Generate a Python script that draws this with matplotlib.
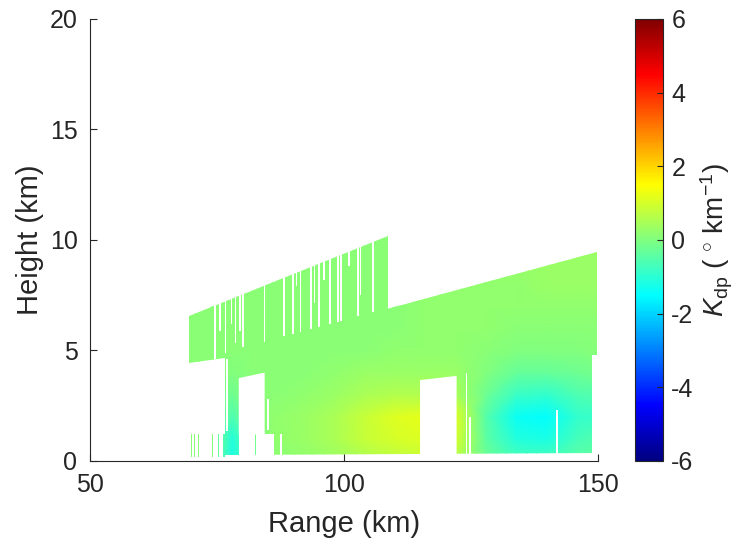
import numpy as np
import matplotlib
matplotlib.use('Agg')
import matplotlib.pyplot as plt
from matplotlib.colors import LinearSegmentedColormap, Normalize
from matplotlib.patches import Polygon
from matplotlib.cm import ScalarMappable

plt.rcParams['font.family'] = ['Liberation Sans', 'DejaVu Sans']
plt.rcParams['mathtext.fontset'] = 'custom'
plt.rcParams['mathtext.rm'] = 'Liberation Sans'
plt.rcParams['mathtext.it'] = 'Liberation Sans:italic'
plt.rcParams['axes.unicode_minus'] = False

# Kdp on a coarse range/height grid (deg/km); rows are heights
grid_range = [69, 74, 78, 82, 86, 92, 98, 104, 110, 116, 122, 128, 134, 140, 146, 151]
grid_height = [0, 1, 2, 3, 4, 5, 6, 7, 8, 9, 10.5]
kdp = [
    [0.1, 0.1, -1.2, -0.3, 0.1, 0.2, 0.3, 0.5, 0.7, 0.8, 0.6, -0.2, -0.6, -0.6, -0.4, -0.3],
    [0.1, 0.1, -1.1, -0.2, 0.2, 0.3, 0.5, 0.8, 1.0, 1.1, 1.0, -0.4, -1.1, -1.2, -0.7, -0.5],
    [0.1, 0.1, -0.6, 0.0, 0.2, 0.3, 0.5, 0.8, 1.1, 1.2, 1.1, -0.5, -1.4, -1.5, -0.9, -0.8],
    [0.1, 0.1, -0.2, 0.1, 0.1, 0.2, 0.3, 0.5, 0.6, 0.6, 0.5, -0.2, -0.8, -0.9, -0.6, -0.5],
    [0.1, 0.1, 0.0, 0.1, 0.1, 0.1, 0.2, 0.3, 0.3, 0.3, 0.3, 0.0, -0.3, -0.3, -0.2, -0.1],
    [0.1, 0.1, 0.1, 0.1, 0.1, 0.1, 0.1, 0.1, 0.2, 0.2, 0.2, 0.1, 0.0, 0.0, 0.0, 0.1],
    [0.1, 0.1, 0.1, 0.1, 0.1, 0.1, 0.1, 0.1, 0.1, 0.2, 0.2, 0.2, 0.1, 0.1, 0.1, 0.1],
    [0.1, 0.1, 0.1, 0.1, 0.1, 0.1, 0.1, 0.1, 0.1, 0.2, 0.2, 0.2, 0.2, 0.2, 0.2, 0.2],
    [0.1, 0.1, 0.1, 0.1, 0.1, 0.1, 0.1, 0.1, 0.1, 0.2, 0.2, 0.2, 0.2, 0.3, 0.3, 0.3],
    [0.1, 0.1, 0.1, 0.1, 0.1, 0.1, 0.1, 0.1, 0.1, 0.2, 0.2, 0.3, 0.3, 0.3, 0.3, 0.3],
    [0.1, 0.1, 0.1, 0.1, 0.1, 0.1, 0.1, 0.1, 0.1, 0.2, 0.2, 0.3, 0.3, 0.3, 0.3, 0.3],
]

# scan coverage (km)
upper_range = [69.5, 108.7]
upper_top = [6.55, 10.2]
upper_base = [4.43, 5.68]
main_range = [76.6, 149.8]
main_top = [4.9, 9.45]
main_base = [0.25, 0.35]
low_start = [69.9, 70.5, 71.2, 74.1, 75.2, 76.1]
low_end = [70.1, 70.7, 71.4, 74.3, 75.4, 76.6]
low_base = 0.2
low_top = 1.2

# missing data below the top of the main sweep
gap_start = [79.3, 79.3, 82.7, 84.4, 87.4, 76.7, 84.9, 115.0, 124.0, 124.7, 141.7, 148.9]
gap_end = [84.4, 82.4, 84.4, 86.2, 87.8, 77.1, 85.3, 122.2, 124.2, 125.0, 142.2, 149.8]
gap_base = [1.2, 0.0, 0.0, 0.0, 0.0, 1.35, 1.4, 0.0, 0.0, 0.0, 0.0, 0.0]
gap_top_l = [3.75, 1.25, 1.25, 1.2, 1.2, 4.6, 2.8, 3.66, 4.0, 2.0, 2.3, 4.8]
gap_top_r = [4.0, 1.25, 1.25, 1.2, 1.2, 4.6, 2.8, 3.85, 4.0, 2.0, 2.3, 4.8]

# missing beams in the upper sweep (they run up to the sweep top)
beam_start = [74.5, 75.45, 76.6, 77.7, 78.55, 79.4, 80.0, 84.2, 88.1, 89.7, 90.6, 91.35,
              93.3, 94.1, 95.0, 95.9, 97.1, 98.55, 99.2, 100.85, 102.5, 103.15, 105.45]
beam_end = [74.8, 75.8, 76.8, 77.9, 78.75, 79.65, 80.25, 84.5, 88.4, 90.15, 90.8, 91.6,
            93.7, 94.35, 95.3, 96.25, 97.45, 98.95, 99.6, 101.3, 102.9, 103.4, 105.9]
beam_base = [4.6, 5.9, 4.9, 6.2, 5.35, 5.9, 5.15, 5.4, 5.65, 5.75, 7.9, 5.85,
             5.97, 7.15, 6.07, 8.2, 6.2, 6.3, 6.35, 8.8, 6.55, 7.5, 6.75]

jet = LinearSegmentedColormap.from_list(
    'jet_m', list(zip([0, 1/8, 3/8, 5/8, 7/8, 1],
                      [(0, 0, 0.5), (0, 0, 1), (0, 1, 1), (1, 1, 0), (1, 0, 0), (0.5, 0, 0)])), N=256)
norm = Normalize(-6, 6)

fig = plt.figure(figsize=(7.5, 5.48), dpi=100)
ax = fig.add_axes([0.12, 0.1588, 0.677, 0.8066])


def draw_region(verts):
    mesh = ax.pcolormesh(grid_range, grid_height, np.array(kdp), shading='gouraud',
                         cmap=jet, norm=norm, zorder=1)
    mesh.set_clip_path(Polygon(verts, closed=True, transform=ax.transData))


draw_region([(upper_range[0], upper_base[0]), (upper_range[1], upper_base[1]),
             (upper_range[1], upper_top[1]), (upper_range[0], upper_top[0])])
draw_region([(main_range[0], main_base[0]), (main_range[1], main_base[1]),
             (main_range[1], main_top[1]), (main_range[0], main_top[0])])
for r0, r1 in zip(low_start, low_end):
    draw_region([(r0, low_base), (r1, low_base), (r1, low_top), (r0, low_top)])

for r0, r1, b, tl, tr in zip(gap_start, gap_end, gap_base, gap_top_l, gap_top_r):
    ax.add_patch(Polygon([(r0, b), (r1, b), (r1, tr), (r0, tl)], closed=True,
                         facecolor='white', edgecolor='none', zorder=1.5))
for r0, r1, b in zip(beam_start, beam_end, beam_base):
    ax.add_patch(Polygon([(r0, b), (r1, b), (r1, 11), (r0, 11)], closed=True,
                         facecolor='white', edgecolor='none', zorder=1.5))

ax.set_xlim(50, 150)
ax.set_ylim(0, 20)
ax.set_xticks([50, 100, 150])
ax.set_yticks([0, 5, 10, 15, 20])
for s in ['top', 'right']:
    ax.spines[s].set_visible(False)
for s in ['left', 'bottom']:
    ax.spines[s].set_color('#262626')
ax.tick_params(direction='in', length=5, color='#262626', labelcolor='#262626',
               labelsize=18, pad=9)
ax.set_xlabel('Range (km)', fontsize=21, color='#262626', labelpad=9)
ax.set_ylabel('Height (km)', fontsize=21, color='#262626')

cax = fig.add_axes([0.8467, 0.1588, 0.0373, 0.8066])
cb = fig.colorbar(ScalarMappable(norm=norm, cmap=jet), cax=cax, ticks=[-6, -4, -2, 0, 2, 4, 6])
cb.ax.tick_params(direction='in', length=4, color='#262626', labelcolor='#262626',
                  labelsize=18, pad=6)
cb.outline.set_edgecolor('#262626')
cb.set_label(r'$K_{\rm dp}$ ( $^{\circ}$ km$^{-1}$)', fontsize=20, color='#262626')

fig.savefig('out.png', dpi=100)
